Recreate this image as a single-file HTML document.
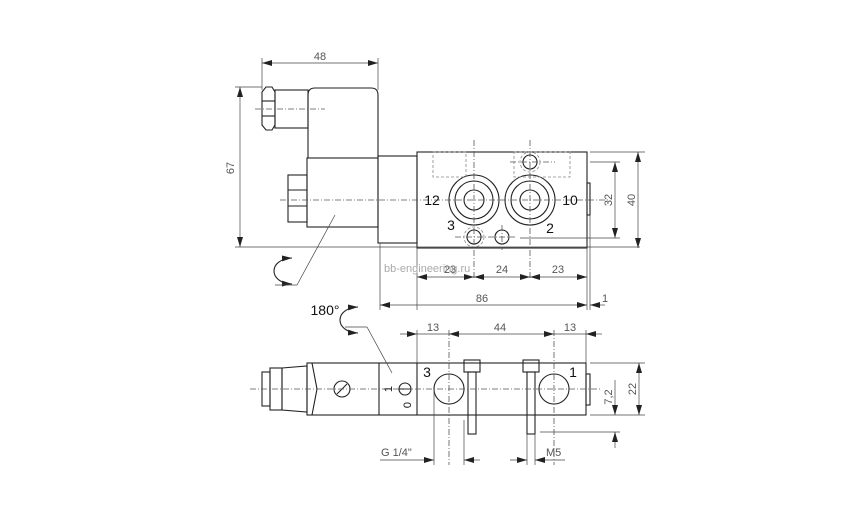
<!DOCTYPE html>
<html><head><meta charset="utf-8"><style>
html,body{margin:0;padding:0;background:#fff;}
svg{display:block;}
text{font-family:"Liberation Sans",sans-serif;}
</style></head><body>
<svg width="868" height="515" viewBox="0 0 868 515" xmlns="http://www.w3.org/2000/svg">
<defs>
<marker id="a" viewBox="0 0 10 6" refX="10" refY="3" markerWidth="10" markerHeight="6" orient="auto-start-reverse" markerUnits="userSpaceOnUse"><path d="M0,0 L10,3 L0,6z" fill="#222"/></marker>
</defs>
<g fill="none" stroke="#222" stroke-width="1.1">
<path d="M262,92 L266,87 L272,87 L275,92 L275,125 L272,130 L266,130 L262,125Z"/>
<line x1="262" y1="101" x2="275" y2="101"/><line x1="262" y1="116" x2="275" y2="116"/>
<rect x="275" y="90" width="33" height="38"/>
<path d="M308,158 L308,95 Q308,88 315,88 L371,88 Q378,88 378,95 L378,158"/>
<rect x="307" y="158" width="71" height="69"/>
<rect x="288" y="175" width="19" height="47"/>
<line x1="288" y1="190" x2="307" y2="190"/><line x1="288" y1="206" x2="307" y2="206"/>
<rect x="378" y="156" width="39" height="87"/>
<rect x="417" y="152" width="170" height="96"/>
<rect x="587" y="183" width="3" height="32"/>
<circle cx="474" cy="200" r="25"/><circle cx="474" cy="200" r="19"/><circle cx="474" cy="200" r="10"/>
<circle cx="530" cy="200" r="25"/><circle cx="530" cy="200" r="19"/><circle cx="530" cy="200" r="10"/>
<circle cx="530" cy="162" r="7"/><circle cx="474" cy="237" r="7"/><circle cx="502" cy="237" r="7"/>
<rect x="262" y="372" width="8" height="34"/>
<rect x="270" y="368" width="12" height="42"/>
<path d="M282,368 L307,366 L307,412 L282,410Z"/>
<rect x="307" y="363" width="279" height="52"/>
<line x1="379" y1="363" x2="379" y2="415"/><line x1="417" y1="363" x2="417" y2="415"/>
<path d="M312,363 L317,389 L312,415"/>
<circle cx="342" cy="389" r="8"/><line x1="337" y1="394" x2="347" y2="384"/>
<circle cx="405" cy="389" r="6"/><line x1="399" y1="389" x2="411" y2="389"/>
<circle cx="449" cy="389" r="15"/><circle cx="554" cy="389" r="15"/>
<rect x="586" y="374" width="4" height="31"/>
<rect x="464" y="360" width="16" height="12"/><rect x="468" y="372" width="8" height="62"/>
<rect x="523" y="360" width="16" height="12"/><rect x="527" y="372" width="8" height="62"/>
<path d="M292,258 C268,259 268,283 292,284" marker-start="url(#a)" marker-end="url(#a)"/>
<path d="M358,307 C334,308 334,332 358,333" marker-start="url(#a)" marker-end="url(#a)"/>
</g>
<g fill="none" stroke="#555" stroke-width="0.8" stroke-dasharray="6,2,1,2">
<line x1="280" y1="200" x2="610" y2="200"/><line x1="255" y1="109" x2="325" y2="109"/>
<line x1="474" y1="140" x2="474" y2="280"/><line x1="530" y1="140" x2="530" y2="280"/>
<line x1="502" y1="225" x2="502" y2="250"/><line x1="510" y1="162" x2="555" y2="162"/>
<line x1="455" y1="237" x2="515" y2="237"/>
<line x1="250" y1="389" x2="600" y2="389"/>
<line x1="449" y1="330" x2="449" y2="465"/><line x1="554" y1="330" x2="554" y2="465"/>
</g>
<g fill="none" stroke="#888" stroke-width="0.8" stroke-dasharray="3,2">
<rect x="433" y="152" width="33" height="25"/><rect x="514" y="152" width="56" height="25"/>
<circle cx="530" cy="162" r="10"/><circle cx="474" cy="237" r="10"/>
</g>
<g fill="none" stroke="#444" stroke-width="0.7">
<line x1="262" y1="58" x2="262" y2="90"/><line x1="378" y1="58" x2="378" y2="90"/>
<line x1="262" y1="63" x2="378" y2="63" marker-start="url(#a)" marker-end="url(#a)"/>
<line x1="235" y1="87" x2="262" y2="87"/><line x1="235" y1="247" x2="640" y2="247"/>
<line x1="240" y1="87" x2="240" y2="247" marker-start="url(#a)" marker-end="url(#a)"/>
<line x1="590" y1="152" x2="645" y2="152"/><line x1="590" y1="162" x2="620" y2="162"/><line x1="520" y1="238" x2="620" y2="238"/>
<line x1="615" y1="162" x2="615" y2="238" marker-start="url(#a)" marker-end="url(#a)"/>
<line x1="638" y1="152" x2="638" y2="248" marker-start="url(#a)" marker-end="url(#a)"/>
<line x1="417" y1="248" x2="417" y2="310"/><line x1="587" y1="248" x2="587" y2="310"/><line x1="590" y1="215" x2="590" y2="310"/>
<line x1="380" y1="243" x2="380" y2="310"/>
<line x1="417" y1="277" x2="474" y2="277" marker-start="url(#a)" marker-end="url(#a)"/>
<line x1="474" y1="277" x2="530" y2="277" marker-start="url(#a)" marker-end="url(#a)"/>
<line x1="530" y1="277" x2="587" y2="277" marker-start="url(#a)" marker-end="url(#a)"/>
<line x1="380" y1="305" x2="587" y2="305" marker-start="url(#a)" marker-end="url(#a)"/>
<line x1="605" y1="305" x2="590" y2="305" marker-end="url(#a)"/>
<line x1="275" y1="285" x2="297" y2="285"/><line x1="297" y1="285" x2="335" y2="215"/>
<line x1="345" y1="327" x2="367" y2="327"/><line x1="367" y1="327" x2="392" y2="373"/>
<line x1="417" y1="330" x2="417" y2="363"/><line x1="586" y1="330" x2="586" y2="363"/>
<line x1="400" y1="334" x2="417" y2="334" marker-end="url(#a)"/>
<line x1="417" y1="334" x2="449" y2="334"/>
<line x1="449" y1="334" x2="554" y2="334" marker-start="url(#a)" marker-end="url(#a)"/>
<line x1="554" y1="334" x2="586" y2="334"/>
<line x1="602" y1="334" x2="586" y2="334" marker-end="url(#a)"/>
<line x1="590" y1="363" x2="645" y2="363"/><line x1="590" y1="415" x2="645" y2="415"/><line x1="540" y1="432" x2="620" y2="432"/>
<line x1="639" y1="363" x2="639" y2="415" marker-start="url(#a)" marker-end="url(#a)"/>
<line x1="615" y1="380" x2="615" y2="415" marker-end="url(#a)"/>
<line x1="615" y1="448" x2="615" y2="432" marker-end="url(#a)"/>
<line x1="434" y1="389" x2="434" y2="465"/><line x1="464" y1="420" x2="464" y2="465"/>
<line x1="380" y1="460" x2="434" y2="460" marker-end="url(#a)"/>
<line x1="480" y1="460" x2="464" y2="460" marker-end="url(#a)"/>
<line x1="527" y1="434" x2="527" y2="465"/><line x1="535" y1="434" x2="535" y2="465"/>
<line x1="510" y1="460" x2="527" y2="460" marker-end="url(#a)"/>
<line x1="565" y1="460" x2="535" y2="460" marker-end="url(#a)"/>
</g>
<g fill="#555" font-size="11">
<text x="320" y="60" text-anchor="middle">48</text>
<text x="234" y="168" text-anchor="middle" transform="rotate(-90 234 168)">67</text>
<text x="612" y="200" text-anchor="middle" transform="rotate(-90 612 200)">32</text>
<text x="635" y="200" text-anchor="middle" transform="rotate(-90 635 200)">40</text>
<text x="450" y="273" text-anchor="middle">23</text>
<text x="502" y="273" text-anchor="middle">24</text>
<text x="558" y="273" text-anchor="middle">23</text>
<text x="482" y="302" text-anchor="middle">86</text>
<text x="605" y="302" text-anchor="middle">1</text>
<text x="433" y="331" text-anchor="middle">13</text>
<text x="500" y="331" text-anchor="middle">44</text>
<text x="570" y="331" text-anchor="middle">13</text>
<text x="612" y="397" text-anchor="middle" transform="rotate(-90 612 397)">7,2</text>
<text x="636" y="389" text-anchor="middle" transform="rotate(-90 636 389)">22</text>
<text x="381" y="456">G 1/4"</text>
<text x="546" y="456">M5</text>
<text x="384" y="272" fill="#aaa">bb-engineering.ru</text>
</g>
<g fill="#111" font-size="14">
<text x="432" y="205" text-anchor="middle">12</text>
<text x="570" y="205" text-anchor="middle">10</text>
<text x="451" y="230" text-anchor="middle">3</text>
<text x="550" y="233" text-anchor="middle">2</text>
<text x="427" y="377" text-anchor="middle">3</text>
<text x="573" y="377" text-anchor="middle">1</text>
<text x="325" y="315" text-anchor="middle">180°</text>
<text x="392" y="389" font-size="11" text-anchor="middle" transform="rotate(-90 392 389)">1</text>
<text x="407" y="409" font-size="11" text-anchor="middle" transform="rotate(-90 407 405)">0</text>
</g>
</svg>
</body></html>
